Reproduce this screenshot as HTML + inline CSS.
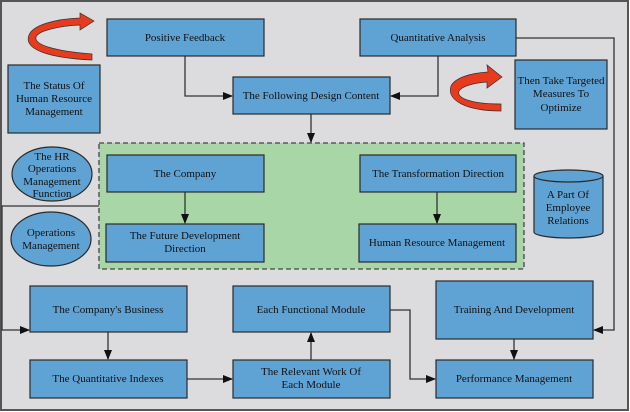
<!DOCTYPE html>
<html><head><meta charset="utf-8"><style>
html,body{margin:0;padding:0;background:#fff}
svg{display:block}
text{font-family:"Liberation Serif",serif;font-size:11px;fill:#111;text-anchor:middle}
.b{fill:#5fa3d5;stroke:#2a2a2a;stroke-width:1.2}
.l{stroke:#333;stroke-width:1.3;fill:none}
</style></head><body>
<svg width="630" height="412" viewBox="0 0 630 412" xmlns="http://www.w3.org/2000/svg">
<defs><marker id="a" markerWidth="10" markerHeight="8" refX="9" refY="4" orient="auto" markerUnits="userSpaceOnUse"><path d="M0,0 L10,4 L0,8 Z" fill="#111"/></marker></defs>
<rect x="1" y="1" width="627" height="409" fill="#dcdcde" stroke="#555" stroke-width="2"/>
<rect x="99" y="143" width="425" height="126" fill="#a9d6a6" stroke="#444" stroke-width="1.3" stroke-dasharray="5,3"/>
<path class="l" d="M185,56 V96 H232" marker-end="url(#a)"/>
<path class="l" d="M438,56 V96 H391" marker-end="url(#a)"/>
<path class="l" d="M311,114 V142" marker-end="url(#a)"/>
<path class="l" d="M185,192 V223" marker-end="url(#a)"/>
<path class="l" d="M437,192 V223" marker-end="url(#a)"/>
<path class="l" d="M516,38 H614 V330 H594" marker-end="url(#a)"/>
<path class="l" d="M99,206 H2 V330 H29" marker-end="url(#a)"/>
<path class="l" d="M108,332 V359" marker-end="url(#a)"/>
<path class="l" d="M187,379 H232" marker-end="url(#a)"/>
<path class="l" d="M311,360 V333" marker-end="url(#a)"/>
<path class="l" d="M390,310 H410 V379 H435" marker-end="url(#a)"/>
<path class="l" d="M514,339 V359" marker-end="url(#a)"/>
<path d="M92,60 C48,58 23,49 29,35 C33,25 55,19 80,18 L80,13 L94,21 L80,30 L80,25 C58,26 38,31 36,37 C34,45 55,51 92,54 Z" fill="#e83a1c" stroke="#333" stroke-width="0.7"/>
<path d="M501,111 C468,111 446,101 451,86 C455,78 470,73 488,72 L487,65 L502,77 L487,88 L487,82 C474,83 462,86 459,91 C456,98 471,104 501,104 Z" fill="#e83a1c" stroke="#333" stroke-width="0.7"/>
<rect class="b" x="107" y="19" width="157" height="37"/><text x="185" y="41">Positive Feedback</text>
<rect class="b" x="360" y="19" width="156" height="37"/><text x="438" y="41">Quantitative Analysis</text>
<rect class="b" x="8" y="65" width="92" height="68"/><text x="54" y="89">The Status Of</text><text x="54" y="102">Human Resource</text><text x="54" y="115">Management</text>
<rect class="b" x="233" y="77" width="157" height="37"/><text x="311" y="99">The Following Design Content</text>
<rect class="b" x="515" y="60" width="92" height="69"/><text x="561" y="84">Then Take Targeted</text><text x="561" y="97">Measures To</text><text x="561" y="111">Optimize</text>
<rect class="b" x="107" y="155" width="157" height="37"/><text x="185" y="177">The Company</text>
<rect class="b" x="360" y="155" width="156" height="37"/><text x="438" y="177">The Transformation Direction</text>
<rect class="b" x="106" y="224" width="158" height="38"/><text x="185" y="239">The Future Development</text><text x="185" y="252">Direction</text>
<rect class="b" x="359" y="224" width="157" height="38"/><text x="437" y="246">Human Resource Management</text>
<ellipse class="b" cx="52" cy="174" rx="40" ry="27"/><text x="52" y="160">The HR</text><text x="52" y="172">Operations</text><text x="52" y="185">Management</text><text x="52" y="197">Function</text>
<ellipse class="b" cx="51" cy="239" rx="40" ry="27"/><text x="51" y="236">Operations</text><text x="51" y="249">Management</text>
<path class="b" d="M534,176 V232 A34.5,6 0 0 0 603,232 V176"/>
<ellipse class="b" cx="568.5" cy="176" rx="34.5" ry="6"/>
<text x="568" y="198">A Part Of</text><text x="568" y="211">Employee</text><text x="568" y="224">Relations</text>
<rect class="b" x="30" y="286" width="157" height="46"/><text x="108" y="313">The Company's Business</text>
<rect class="b" x="233" y="286" width="157" height="46"/><text x="311" y="313">Each Functional Module</text>
<rect class="b" x="436" y="281" width="157" height="58"/><text x="514" y="313">Training And Development</text>
<rect class="b" x="30" y="360" width="157" height="38"/><text x="108" y="382">The Quantitative Indexes</text>
<rect class="b" x="233" y="360" width="157" height="38"/><text x="311" y="375">The Relevant Work Of</text><text x="311" y="388">Each Module</text>
<rect class="b" x="436" y="360" width="157" height="38"/><text x="514" y="382">Performance Management</text>
</svg>
</body></html>
